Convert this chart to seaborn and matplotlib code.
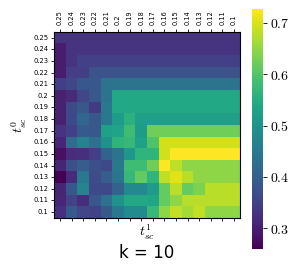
import numpy as np
import pandas as pd
import matplotlib
matplotlib.use('Agg')
import matplotlib.pyplot as plt
from matplotlib.ticker import FuncFormatter
import seaborn as sns

# thresholds (columns = t1, rows = t0)
t1_labels = ['0.25', '0.24', '0.23', '0.22', '0.21', '0.2', '0.19', '0.18',
             '0.17', '0.16', '0.15', '0.14', '0.13', '0.12', '0.11', '0.1']
t0_labels = ['0.25', '0.24', '0.23', '0.22', '0.21', '0.2', '0.19', '0.18',
             '0.17', '0.16', '0.15', '0.14', '0.13', '0.12', '0.11', '0.1']

# scores, one list per t0 row
row_025 = [0.330, 0.330, 0.330, 0.330, 0.330, 0.330, 0.330, 0.330, 0.330, 0.330, 0.330, 0.330, 0.330, 0.330, 0.330, 0.330]
row_024 = [0.297, 0.330, 0.330, 0.330, 0.330, 0.330, 0.330, 0.330, 0.330, 0.330, 0.330, 0.330, 0.330, 0.330, 0.330, 0.330]
row_023 = [0.297, 0.330, 0.349, 0.349, 0.349, 0.349, 0.349, 0.349, 0.349, 0.349, 0.349, 0.349, 0.349, 0.349, 0.349, 0.349]
row_022 = [0.297, 0.344, 0.344, 0.377, 0.377, 0.377, 0.377, 0.377, 0.377, 0.377, 0.377, 0.377, 0.377, 0.377, 0.377, 0.377]
row_021 = [0.344, 0.358, 0.386, 0.386, 0.437, 0.437, 0.437, 0.437, 0.437, 0.437, 0.437, 0.437, 0.437, 0.437, 0.437, 0.437]
row_020 = [0.302, 0.316, 0.358, 0.386, 0.437, 0.540, 0.540, 0.540, 0.540, 0.540, 0.540, 0.540, 0.540, 0.540, 0.540, 0.540]
row_019 = [0.302, 0.363, 0.386, 0.339, 0.447, 0.540, 0.540, 0.540, 0.540, 0.540, 0.540, 0.540, 0.540, 0.540, 0.540, 0.540]
row_018 = [0.302, 0.363, 0.414, 0.386, 0.447, 0.517, 0.559, 0.522, 0.522, 0.522, 0.522, 0.522, 0.522, 0.522, 0.522, 0.522]
row_017 = [0.330, 0.349, 0.391, 0.386, 0.526, 0.531, 0.582, 0.517, 0.624, 0.624, 0.624, 0.624, 0.624, 0.624, 0.624, 0.624]
row_016 = [0.311, 0.423, 0.465, 0.433, 0.494, 0.564, 0.573, 0.526, 0.596, 0.694, 0.694, 0.694, 0.694, 0.694, 0.694, 0.694]
row_015 = [0.279, 0.321, 0.325, 0.344, 0.405, 0.437, 0.508, 0.564, 0.564, 0.694, 0.727, 0.727, 0.727, 0.727, 0.727, 0.727]
row_014 = [0.307, 0.372, 0.395, 0.372, 0.363, 0.447, 0.582, 0.582, 0.624, 0.727, 0.680, 0.648, 0.648, 0.648, 0.648, 0.648]
row_013 = [0.260, 0.316, 0.447, 0.367, 0.395, 0.437, 0.573, 0.615, 0.564, 0.680, 0.704, 0.676, 0.648, 0.648, 0.648, 0.648]
row_012 = [0.307, 0.386, 0.470, 0.363, 0.363, 0.405, 0.479, 0.479, 0.517, 0.615, 0.676, 0.615, 0.634, 0.676, 0.676, 0.676]
row_011 = [0.311, 0.353, 0.321, 0.386, 0.433, 0.494, 0.540, 0.540, 0.536, 0.615, 0.648, 0.676, 0.676, 0.676, 0.676, 0.676]
row_010 = [0.325, 0.391, 0.358, 0.353, 0.386, 0.447, 0.484, 0.484, 0.573, 0.648, 0.685, 0.662, 0.685, 0.648, 0.648, 0.648]

rows = [row_025, row_024, row_023, row_022, row_021, row_020, row_019, row_018,
        row_017, row_016, row_015, row_014, row_013, row_012, row_011, row_010]
df = pd.DataFrame(rows, index=t0_labels, columns=t1_labels)

plt.rcParams['mathtext.fontset'] = 'cm'

fig = plt.figure(figsize=(2.99, 2.70), dpi=100)
ax = fig.add_axes([0.181, 0.193, 0.621, 0.689])
cax = fig.add_axes([0.842, 0.078, 0.039, 0.889])

sns.heatmap(df, ax=ax, cbar_ax=cax, cmap='viridis',
            xticklabels=True, yticklabels=True)

# ticks: labels on top and left, marks also at the bottom
ax.tick_params(top=True, labeltop=True, bottom=True, labelbottom=False,
               length=2.5, width=0.6)
ax.tick_params(axis='x', labelrotation=90, labelsize=4.8, pad=2.5)
ax.tick_params(axis='y', labelrotation=0, labelsize=4.9, pad=1.5)
for sp in ax.spines.values():
    sp.set_visible(True)
    sp.set_linewidth(0.8)

ax.xaxis.set_label_position('bottom')
ax.set_xlabel(r'$t^1_{sc}$', fontsize=10, labelpad=1)
ax.set_ylabel(r'$t^0_{sc}$', fontsize=10, labelpad=3)

cax.tick_params(labelsize=10, length=3, width=0.6, pad=2)
cax.yaxis.set_major_formatter(FuncFormatter(lambda v, p: '$%g$' % round(v, 2)))

fig.text(0.491, 0.062, 'k = 10', fontsize=12, ha='center', va='center')

fig.savefig('out.png', dpi=100)
